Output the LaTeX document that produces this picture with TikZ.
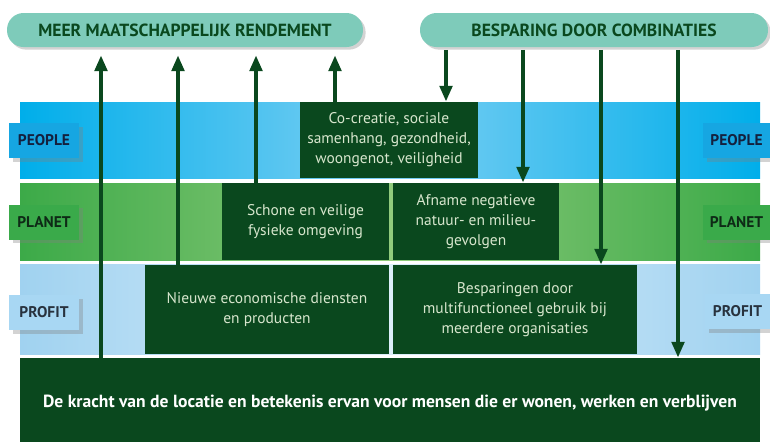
\documentclass[tikz,border=0pt]{standalone}
\usepackage{fontspec}
\setmainfont{PT Sans}
\usepackage{xcolor}
\usepackage{tikz}
\usetikzlibrary{arrows.meta, shadows}

\definecolor{dkgreen}{RGB}{10,72,30}
\definecolor{pillfill}{RGB}{126,203,186}
\definecolor{boxtext}{RGB}{215,230,205}
\definecolor{peopleA}{RGB}{0,174,234}
\definecolor{peopleB}{RGB}{125,207,243}
\definecolor{planetA}{RGB}{60,170,72}
\definecolor{planetB}{RGB}{145,203,125}
\definecolor{profitA}{RGB}{160,210,240}
\definecolor{profitB}{RGB}{220,239,250}
\definecolor{peopletab}{RGB}{22,166,226}
\definecolor{planettab}{RGB}{58,170,74}
\definecolor{profittab}{RGB}{168,215,243}

\begin{document}
\begin{tikzpicture}[x=0.02cm, y=-0.02cm,
  pill/.style={fill=pillfill, rounded corners=0.33cm, text=dkgreen, inner sep=0pt,
    font=\bfseries\fontsize{10}{11}\selectfont, minimum height=0.68cm,
    drop shadow={shadow xshift=1.5pt, shadow yshift=-1.5pt, opacity=0.35}},
  greenbox/.style={fill=dkgreen, text=boxtext, inner sep=0pt, align=center,
    font=\fontsize{8.8}{11.4}\selectfont},
  tab/.style={inner sep=0pt, minimum height=0.7cm, font=\bfseries\fontsize{8.8}{10}\selectfont,
    drop shadow={shadow xshift=2pt, shadow yshift=-2pt, opacity=0.35}},
  flow/.style={dkgreen, line width=2.6pt, -{Triangle[width=7pt, length=9pt]}}]

\useasboundingbox (0,0) rectangle (770,441);

% --- Bands ---
\fill[left color=peopleA, right color=peopleA, middle color=peopleB] (20,102) rectangle (760,178);
\fill[left color=planetA, right color=planetA, middle color=planetB] (20,183) rectangle (760,260);
\fill[left color=profitA, right color=profitA, middle color=profitB] (20,264) rectangle (760,354);

% --- Dark green blocks ---
\node[greenbox, minimum width=3.56cm, minimum height=1.52cm] (cocre) at (389,140)
  {Co-creatie, sociale\\samenhang, gezondheid,\\woongenot, veiligheid};
\node[greenbox, minimum width=3.34cm, minimum height=1.54cm] (schone) at (305.5,221.5)
  {Schone en veilige\\fysieke omgeving};
\node[greenbox, minimum width=3.32cm, minimum height=1.54cm] (afname) at (476,221.5)
  {Afname negatieve\\natuur- en milieu-\\gevolgen};
\node[greenbox, minimum width=4.88cm, minimum height=1.78cm] (nieuwe) at (267,309.5)
  {Nieuwe economische diensten\\en producten};
\node[greenbox, minimum width=4.88cm, minimum height=1.78cm] (bespar) at (515,309.5)
  {Besparingen door\\multifunctioneel gebruik bij\\meerdere organisaties};
\node[greenbox, text=white, font=\bfseries\fontsize{10}{11}\selectfont,
  minimum width=14.8cm, minimum height=1.82cm] (kracht) at (390,403.5)
  {De kracht van de locatie en betekenis ervan voor mensen die er wonen, werken en verblijven};

% --- Side tabs ---
\node[tab, fill=peopletab, text={rgb,255:red,20;green,32;blue,62}, minimum width=1.4cm] (peopleL) at (44,140.5) {PEOPLE};
\node[tab, fill=planettab, text={rgb,255:red,14;green,42;blue,22}, minimum width=1.4cm] (planetL) at (44,222) {PLANET};
\node[tab, fill=profittab, text={rgb,255:red,40;green,50;blue,62}, minimum width=1.4cm] (profitL) at (44,312.5) {PROFIT};
\node[tab, fill=peopletab, text={rgb,255:red,20;green,32;blue,62}, minimum width=1.34cm] (peopleR) at (736.5,140.5) {PEOPLE};
\node[tab, fill=planettab, text={rgb,255:red,14;green,42;blue,22}, minimum width=1.34cm] (planetR) at (736.5,222) {PLANET};
\node[tab, fill=profittab, text={rgb,255:red,40;green,50;blue,62}, minimum width=1.30cm] (profitR) at (737.5,311.5) {PROFIT};

% --- Top pills ---
\node[pill, minimum width=7.12cm] (meer) at (185,30) {MEER MAATSCHAPPELIJK RENDEMENT};
\node[pill, minimum width=6.96cm] (besp) at (594,30) {BESPARING DOOR COMBINATIES};

% arrow positions
\coordinate (u1) at (101,0);
\coordinate (u2) at (178,0);
\coordinate (u3) at (256,0);
\coordinate (u4) at (335,0);
\coordinate (d1) at (446,0);
\coordinate (d2) at (523,0);
\coordinate (d3) at (601,0);
\coordinate (d4) at (678,0);

% --- Arrows up to maatschappelijk rendement ---
\draw[flow, shorten >=4.5pt] (kracht.north -| u1) -- (meer.south -| u1);
\draw[flow, shorten >=4.5pt] (nieuwe.north -| u2) -- (meer.south -| u2);
\draw[flow, shorten >=4.5pt] (schone.north -| u3) -- (meer.south -| u3);
\draw[flow, shorten >=4.5pt] (cocre.north -| u4) -- (meer.south -| u4);

% --- Arrows down from besparing ---
\draw[flow, shorten <=1.5pt] (besp.south -| d1) -- (cocre.north -| d1);
\draw[flow, shorten <=1.5pt] (besp.south -| d2) -- (afname.north -| d2);
\draw[flow, shorten <=1.5pt] (besp.south -| d3) -- (bespar.north -| d3);
\draw[flow, shorten <=1.5pt] (besp.south -| d4) -- (kracht.north -| d4);

\end{tikzpicture}
\end{document}
